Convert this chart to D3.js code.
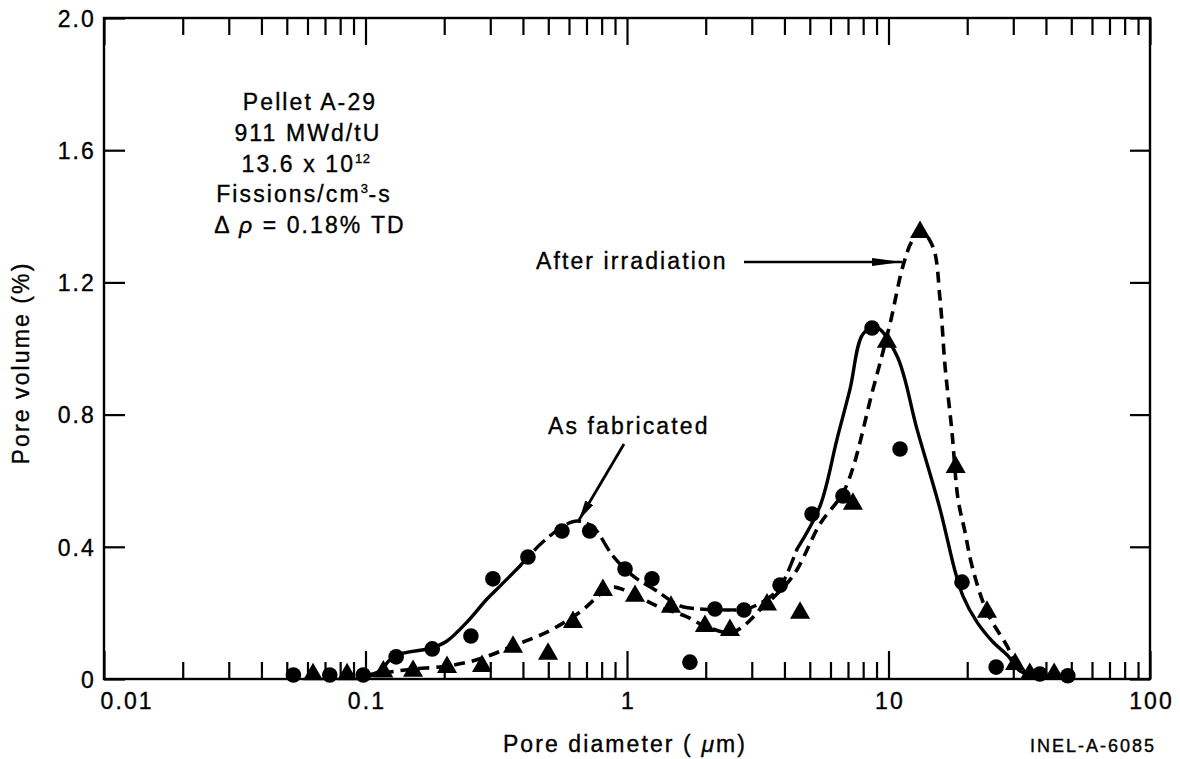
<!DOCTYPE html>
<html><head><meta charset="utf-8">
<script src="https://cdn.jsdelivr.net/npm/d3@7"></script>
<style>
body{margin:0;background:#fff}
svg{display:block}
text{font-family:"Liberation Sans",Arial,Helvetica,sans-serif;fill:#000;stroke:#000;stroke-width:0.35px}
</style>
</head><body>
<svg id="chart" width="1180" height="759"></svg>
<script>
// ---- data ----
const xTickValues = [0.01, 0.1, 1, 10, 100];
const xTickLabels = ["0.01", "0.1", "1", "10", "100"];
const yTickValues = [0, 0.4, 0.8, 1.2, 1.6, 2.0];
const yTickLabels = ["0", "0.4", "0.8", "1.2", "1.6", "2.0"];

// As fabricated: measured points (circles)
const fabDiam = [0.053, 0.073, 0.098, 0.131, 0.18, 0.253, 0.307, 0.418, 0.564, 0.72, 0.983, 1.246, 1.74, 2.17, 2.80, 3.85, 5.10, 6.70, 8.65, 11.07, 19.1, 25.8, 37.9, 48.5];
const fabVol  = [0.012, 0.012, 0.012, 0.067, 0.091, 0.130, 0.303, 0.369, 0.448, 0.448, 0.333, 0.303, 0.051, 0.212, 0.209, 0.284, 0.499, 0.554, 1.062, 0.696, 0.293, 0.036, 0.015, 0.010];

// After irradiation: measured points (triangles)
const irrDiam = [0.063, 0.085, 0.117, 0.152, 0.205, 0.279, 0.3665, 0.499, 0.6215, 0.809, 1.073, 1.473, 1.986, 2.476, 3.43, 4.59, 7.31, 9.86, 13.2, 18.07, 23.8, 30.5, 34.7, 43.0];
const irrVol  = [0.014, 0.014, 0.022, 0.024, 0.036, 0.039, 0.097, 0.076, 0.172, 0.269, 0.251, 0.218, 0.160, 0.148, 0.225, 0.200, 0.530, 1.020, 1.352, 0.641, 0.203, 0.045, 0.015, 0.015];

// Hand-drawn fitted curves (traced)
const fabCurveDiam = [0.0953, 0.1116, 0.1297, 0.1796, 0.2050, 0.2444, 0.2915, 0.3268, 0.3898, 0.4774, 0.5897, 0.6497, 0.7413, 0.8841, 1.054, 1.302, 1.595, 1.902, 2.477, 2.877, 3.430, 3.847, 4.468, 5.470, 6.356, 7.125, 7.989, 8.960, 10.78, 12.85, 15.74, 17.96, 19.27, 21.80, 25.09, 28.64, 31.84, 37.96];
const fabCurveVol  = [0.009, 0.021, 0.070, 0.094, 0.115, 0.172, 0.242, 0.281, 0.342, 0.415, 0.469, 0.478, 0.460, 0.372, 0.312, 0.266, 0.221, 0.212, 0.209, 0.212, 0.242, 0.278, 0.393, 0.523, 0.726, 0.877, 1.044, 1.065, 0.977, 0.756, 0.514, 0.327, 0.251, 0.172, 0.112, 0.070, 0.024, 0.006];

const irrCurveDiam = [0.0996, 0.1241, 0.1519, 0.2050, 0.2741, 0.3665, 0.4943, 0.6613, 0.8096, 0.8841, 1.0, 1.302, 1.696, 1.988, 2.543, 3.312, 4.313, 5.470, 6.818, 8.725, 10.13, 11.36, 12.30, 13.31, 14.80, 15.74, 16.45, 17.49, 18.44, 19.61, 20.86, 23.81, 28.39, 31.28, 36.33];
const irrCurveVol  = [0.006, 0.021, 0.030, 0.039, 0.061, 0.100, 0.142, 0.203, 0.263, 0.278, 0.266, 0.221, 0.188, 0.160, 0.142, 0.218, 0.312, 0.469, 0.575, 0.877, 1.074, 1.250, 1.325, 1.356, 1.307, 1.150, 0.947, 0.747, 0.545, 0.445, 0.342, 0.203, 0.100, 0.036, 0.009];

// ---- layout ----
const svg = d3.select("#chart");
const L = 104, R = 1150, T = 18, B = 679;
const x = d3.scaleLog().domain([0.01, 100]).range([L, R]);
const y = d3.scaleLinear().domain([0, 2]).range([B, T]);
const FONT = 23, LS = "2.1px";

// minor x ticks (2..9 in each decade)
const allX = x.ticks();
const minorX = allX.filter(v => !xTickValues.some(m => Math.abs(Math.log10(v) - Math.log10(m)) < 1e-6));

function styleAxis(g) {
  g.select(".domain").remove();
  g.selectAll(".tick line").attr("stroke", "#000").attr("stroke-width", 2.2);
}
function styleLabels(sel) {
  sel.attr("font-size", FONT).attr("fill", "#000")
    .style("letter-spacing", LS)
    .style("font-family", '"Liberation Sans",Arial,sans-serif')
    .style("stroke", "#000").style("stroke-width", "0.35px");
}

// bottom minor
svg.append("g").attr("transform", `translate(0,${B})`)
  .call(d3.axisBottom(x).tickValues(minorX).tickSize(-17).tickFormat(""))
  .call(styleAxis);
// bottom major with labels
const bottomMajor = svg.append("g").attr("transform", `translate(0,${B})`)
  .call(d3.axisBottom(x).tickValues(xTickValues).tickSize(-28).tickPadding(0)
    .tickFormat((d, i) => xTickLabels[i]))
  .call(styleAxis);
bottomMajor.selectAll(".tick text").call(styleLabels)
  .attr("y", 30).attr("dy", 0)
  .attr("text-anchor", (d, i) => i === 0 ? "start" : "middle")
  .attr("dx", (d, i) => i === 0 ? -4 : 1);

// top minor + major
svg.append("g").attr("transform", `translate(0,${T})`)
  .call(d3.axisTop(x).tickValues(minorX).tickSize(-17).tickFormat(""))
  .call(styleAxis);
svg.append("g").attr("transform", `translate(0,${T})`)
  .call(d3.axisTop(x).tickValues(xTickValues).tickSize(-27).tickFormat(""))
  .call(styleAxis);

// left y axis
const leftAx = svg.append("g").attr("transform", `translate(${L},0)`)
  .call(d3.axisLeft(y).tickValues(yTickValues).tickSize(-21).tickPadding(10)
    .tickFormat((d, i) => yTickLabels[i]))
  .call(styleAxis);
leftAx.selectAll(".tick text").call(styleLabels)
  .attr("x", -8).attr("dy", "0.36em");

// right y axis
svg.append("g").attr("transform", `translate(${R},0)`)
  .call(d3.axisRight(y).tickValues(yTickValues).tickSize(-20).tickFormat(""))
  .call(styleAxis);

// frame
svg.append("rect").attr("x", L).attr("y", T).attr("width", R - L).attr("height", B - T)
  .attr("fill", "none").attr("stroke", "#000").attr("stroke-width", 2.4);

// ---- curves ----
const line = d3.line().x(d => x(d[0])).y(d => y(d[1])).curve(d3.curveCatmullRom.alpha(0.5));
const fabCurve = fabCurveDiam.map((d, i) => [d, fabCurveVol[i]]);
const irrCurve = irrCurveDiam.map((d, i) => [d, irrCurveVol[i]]);

const fabSolid1 = fabCurve.filter(d => d[0] <= 0.39);
const fabDashed = fabCurve.filter(d => d[0] >= 0.389 && d[0] <= 4.47);
const fabSolid2 = fabCurve.filter(d => d[0] >= 4.46);

[fabSolid1, fabSolid2].forEach(seg => {
  svg.append("path").attr("d", line(seg)).attr("fill", "none")
    .attr("stroke", "#000").attr("stroke-width", 3.4).attr("stroke-linecap", "round");
});
svg.append("path").attr("d", line(fabDashed)).attr("fill", "none")
  .attr("stroke", "#000").attr("stroke-width", 3.4).attr("stroke-dasharray", "15,6");

svg.append("path").attr("d", line(irrCurve)).attr("fill", "none")
  .attr("stroke", "#000").attr("stroke-width", 3.6).attr("stroke-dasharray", "11,7");

// ---- markers ----
svg.append("g").selectAll("circle")
  .data(fabDiam.map((d, i) => [d, fabVol[i]]))
  .join("circle")
  .attr("cx", d => x(d[0])).attr("cy", d => y(d[1])).attr("r", 7.8)
  .attr("fill", "#000");

const tri = d3.symbol().type(d3.symbolTriangle).size(175);
svg.append("g").selectAll("path")
  .data(irrDiam.map((d, i) => [d, irrVol[i]]))
  .join("path")
  .attr("d", tri)
  .attr("transform", d => `translate(${x(d[0])},${y(d[1])})`)
  .attr("fill", "#000");

// ---- annotations ----
const defs = svg.append("defs");
defs.append("marker").attr("id", "headLong")
  .attr("viewBox", "0 0 30 10").attr("refX", 30).attr("refY", 5)
  .attr("markerWidth", 30).attr("markerHeight", 10).attr("markerUnits", "userSpaceOnUse")
  .attr("orient", "auto")
  .append("path").attr("d", "M0,1 L30,5 L0,9 Z").attr("fill", "#000");
defs.append("marker").attr("id", "headShort")
  .attr("viewBox", "0 0 20 10").attr("refX", 20).attr("refY", 5)
  .attr("markerWidth", 20).attr("markerHeight", 10).attr("markerUnits", "userSpaceOnUse")
  .attr("orient", "auto")
  .append("path").attr("d", "M0,0.5 L20,5 L0,9.5 Z").attr("fill", "#000");

svg.append("text").attr("x", 536).attr("y", 269).attr("font-size", FONT)
  .style("letter-spacing", LS).text("After irradiation");
svg.append("line").attr("x1", 744).attr("y1", 262).attr("x2", 902).attr("y2", 262)
  .attr("stroke", "#000").attr("stroke-width", 2.4).attr("marker-end", "url(#headLong)");

svg.append("text").attr("x", 548).attr("y", 434).attr("font-size", FONT)
  .style("letter-spacing", LS).text("As fabricated");
svg.append("line").attr("x1", 624).attr("y1", 444).attr("x2", 579).attr("y2", 520)
  .attr("stroke", "#000").attr("stroke-width", 2.8).attr("marker-end", "url(#headShort)");

// info block
const info = svg.append("g").attr("font-size", FONT).style("letter-spacing", LS)
  .attr("text-anchor", "middle");
info.append("text").attr("x", 310).attr("y", 110).text("Pellet A-29");
info.append("text").attr("x", 308).attr("y", 141).text("911 MWd/tU");
const t3 = info.append("text").attr("x", 306).attr("y", 172);
t3.append("tspan").text("13.6 x 10");
t3.append("tspan").attr("font-size", 13).attr("dy", -9).style("letter-spacing", "0.5px").text("12");
const t4 = info.append("text").attr("x", 304).attr("y", 202);
t4.append("tspan").text("Fissions/cm");
t4.append("tspan").attr("font-size", 13).attr("dy", -9).style("letter-spacing", "0.5px").text("3");
t4.append("tspan").attr("dy", 9).text("-s");
const t5 = info.append("text").attr("x", 310).attr("y", 233);
t5.append("tspan").text("Δ ");
t5.append("tspan").attr("font-style", "italic").text("ρ");
t5.append("tspan").text(" = 0.18% TD");

// axis titles
svg.append("text").attr("transform", "translate(29,363) rotate(-90)")
  .attr("text-anchor", "middle").attr("font-size", FONT).style("letter-spacing", LS)
  .text("Pore volume (%)");
const xt = svg.append("text").attr("x", 625).attr("y", 752).attr("text-anchor", "middle")
  .attr("font-size", FONT).style("letter-spacing", LS);
xt.append("tspan").text("Pore diameter ( ");
xt.append("tspan").attr("font-style", "italic").text("μ");
xt.append("tspan").text("m)");

svg.append("text").attr("x", 1030).attr("y", 752).attr("font-size", 18)
  .style("letter-spacing", "2px").text("INEL-A-6085");
</script>
</body></html>
